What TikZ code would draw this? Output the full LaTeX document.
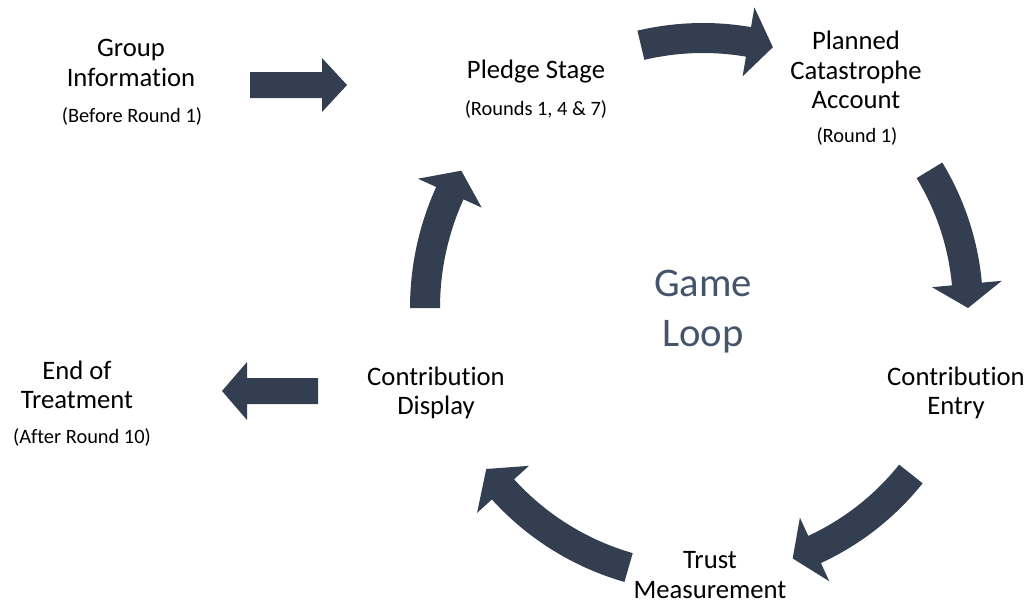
\documentclass[tikz,border=0pt]{standalone}
\usepackage{fontspec}
\setmainfont{Carlito}[Ligatures=NoCommon]
\definecolor{arrowfill}{HTML}{333F50}
\definecolor{looptext}{HTML}{44546A}

% curved block arrow around the loop centre:
% #1 tail angle, #2 angle of the head's back edge, #3 tip angle, #4 radius
\newcommand{\looparrow}[4]{%
  \fill[arrowfill]
    plot[domain=#1:#2, samples=40] (\x:{#4+15})
    -- (#2:{#4+35}) -- (#3:#4) -- (#2:{#4-35})
    -- plot[domain=#2:#1, samples=40] (\x:{#4-15})
    -- cycle;}

\begin{document}
\begin{tikzpicture}[x=0.75pt, y=-0.75pt,
  stagetext/.style={align=center, inner sep=0pt, text=black,
    font=\fontsize{20}{22}\selectfont},
  notetext/.style={align=center, inner sep=0pt, text=black,
    font=\fontsize{15.3}{17}\selectfont},
  looptitle/.style={align=center, inner sep=0pt, text=looptext,
    font=\fontsize{30.5}{37.5}\selectfont}]
\useasboundingbox (0,0) rectangle (1027,604);

% stage labels
\node[stagetext] (group) at (131,63) {Group\\Information};
\node[notetext]  (groupnote) at (132,116) {(Before Round 1)};
\node[stagetext] (pledge) at (536,72) {Pledge Stage};
\node[notetext]  (pledgenote) at (536,109) {(Rounds 1, 4 \& 7)};
\node[stagetext] (planned) at (856,70) {Planned\\Catastrophe\\Account};
\node[notetext]  (plannednote) at (857,136) {(Round 1)};
\node[looptitle] (loop) at (703,312) {Game\\Loop};
\node[stagetext] (entry) at (956,393) {Contribution\\Entry};
\node[stagetext] (trust) at (710,575) {Trust\\Measurement};
\node[stagetext] (display) at (436,393) {Contribution\\Display};
\node[stagetext] (end) at (77,385) {End of\\Treatment};
\node[notetext]  (endnote) at (82,437) {(After Round 10)};

% straight arrows into and out of the loop
\fill[arrowfill] (250,72) -- (322,72) -- (322,58) -- (347,85)
  -- (322,112) -- (322,98) -- (250,98) -- cycle;
\fill[arrowfill] (318,378) -- (247,378) -- (247,362) -- (222,391)
  -- (247,420) -- (247,404) -- (318,404) -- cycle;

% curved arrows of the loop
\begin{scope}[shift={(703,308)}]
  \looparrow{-103.3}{-80.3}{-75}{270}
  \looparrow{-31.3}{-5.2}{0}{265}
  \looparrow{38.6}{65.2}{70.3}{266}
  \looparrow{106}{137.8}{143.4}{270}
  \looparrow{180}{204.4}{209.6}{278}
\end{scope}
\end{tikzpicture}
\end{document}
